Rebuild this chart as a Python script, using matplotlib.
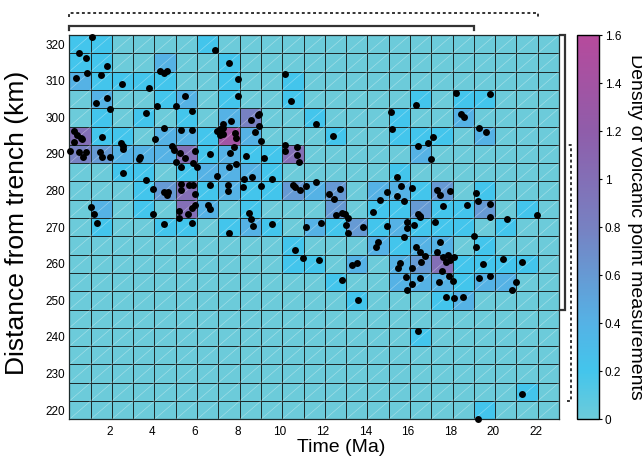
import numpy as np
import matplotlib
matplotlib.use("Agg")
import matplotlib.pyplot as plt
from matplotlib.colors import LinearSegmentedColormap
from matplotlib.collections import LineCollection
from matplotlib.transforms import blended_transform_factory

# ---------------- data ----------------
time_ma = [
    1.17, 0.56, 0.87, 1.86, 0.95, 0.41, 1.59, 6.93, 7.62, 4.36,
    4.56, 4.70, 2.59, 3.84, 8.01, 1.86, 1.34, 2.03, 4.23, 3.72,
    5.53, 5.11, 5.85, 8.01, 10.23, 10.51, 4.55, 5.35, 5.85, 7.02,
    7.16, 7.23, 7.30, 7.30, 7.16, 7.88, 7.93, 7.84, 7.31, 7.71,
    8.62, 8.98, 9.02, 9.02, 8.82, 9.09, 0.33, 0.45, 0.64, 0.68,
    0.33, 1.64, 2.53, 2.64, 2.64, 4.11, 0.15, 0.56, 0.87, 0.73,
    1.54, 1.64, 2.03, 3.42, 3.36, 4.92, 5.03, 5.11, 5.30, 5.53,
    6.00, 5.33, 5.92, 6.11, 6.71, 7.63, 8.40, 9.23, 10.25, 10.23,
    10.81, 10.81, 10.90, 11.69, 7.93, 7.62, 2.64, 3.72, 4.02, 4.55,
    4.67, 4.74, 5.35, 5.71, 5.90, 6.00, 5.33, 7.02, 6.71, 7.57,
    7.53, 8.24, 8.31, 8.70, 9.10, 9.61, 10.62, 10.70, 10.94, 11.20,
    11.68, 1.12, 1.25, 1.42, 4.02, 4.55, 5.25, 5.25, 5.69, 5.85,
    6.00, 5.85, 6.63, 6.71, 7.62, 8.52, 8.62, 8.71, 9.61, 10.70,
    11.09, 11.22, 11.91, 11.83,
    12.50, 12.31, 12.53, 12.81, 12.61, 12.91, 13.07, 13.20, 13.08, 13.20,
    13.91, 14.38, 15.00, 14.69, 15.00, 14.51, 14.59, 13.37, 13.60, 12.89,
    13.67, 15.20, 15.27, 16.37, 18.27, 19.87, 18.48, 18.66, 19.36, 19.66,
    17.20, 16.97, 16.50, 17.08, 15.51, 15.68, 15.48, 15.81, 16.19, 17.37,
    17.51, 17.98, 17.67, 18.79, 19.19, 19.28, 19.87, 19.87, 20.65, 22.08,
    16.50, 16.55, 16.59, 15.98, 16.28, 15.95, 15.81, 17.28, 17.49, 19.09,
    19.19, 16.38, 16.59, 16.80, 17.36, 17.64, 17.90, 18.17, 17.98, 17.79,
    15.63, 15.55, 16.18, 16.61, 17.59, 17.95, 18.11, 17.48, 16.57, 15.90,
    16.20, 15.98, 19.51, 20.49, 21.36, 19.36, 19.87, 21.08, 20.89, 17.79,
    18.19, 18.58, 16.49, 21.35, 19.28,
]
distance_km = [
    322.0, 317.7, 316.1, 314.1, 312.0, 310.8, 311.6, 318.4, 314.8, 312.7,
    312.0, 312.7, 309.1, 308.0, 310.6, 305.3, 304.0, 302.2, 303.0, 301.3,
    305.8, 303.2, 301.7, 305.8, 311.8, 304.5, 297.2, 296.5, 296.5, 296.3,
    296.8, 296.1, 297.2, 295.5, 295.2, 295.6, 294.3, 292.0, 298.2, 299.0,
    299.3, 300.6, 301.0, 297.7, 296.1, 293.6, 296.3, 295.2, 294.5, 294.0,
    293.3, 294.6, 292.9, 292.2, 291.4, 294.0, 290.9, 290.6, 290.5, 289.1,
    290.5, 289.1, 289.1, 289.3, 288.5, 292.2, 291.1, 287.9, 290.3, 289.0,
    290.9, 286.5, 287.5, 286.5, 289.9, 290.2, 289.5, 289.0, 292.4, 290.8,
    291.8, 289.8, 287.9, 298.2, 287.2, 286.4, 284.7, 282.8, 280.3, 279.6,
    278.9, 279.7, 281.7, 281.4, 281.4, 279.1, 280.2, 283.9, 281.5, 281.5,
    279.9, 281.1, 283.2, 283.6, 281.3, 283.1, 281.4, 281.1, 280.2, 281.3,
    282.3, 275.4, 273.6, 271.1, 273.5, 270.8, 274.5, 272.6, 273.5, 275.3,
    276.1, 271.1, 276.1, 274.9, 268.5, 274.0, 272.2, 270.4, 270.8, 263.7,
    261.6, 270.0, 271.2, 260.9,
    294.9, 279.0, 277.7, 280.3, 273.3, 274.0, 273.7, 272.4, 270.7, 268.5,
    270.0, 274.2, 279.5, 277.5, 270.3, 264.5, 266.0, 259.7, 260.3, 255.6,
    250.1, 301.5, 296.7, 303.3, 306.6, 306.3, 300.8, 300.2, 297.0, 295.9,
    294.7, 293.1, 292.2, 288.7, 283.6, 281.3, 278.5, 277.1, 280.8, 280.2,
    278.8, 280.0, 275.8, 276.0, 279.3, 277.1, 276.3, 272.7, 272.3, 273.3,
    273.6, 272.7, 273.1, 271.3, 270.5, 269.7, 267.2, 271.3, 265.9, 267.6,
    264.7, 264.5, 263.1, 262.2, 263.1, 261.9, 262.3, 261.9, 261.0, 260.6,
    260.3, 258.9, 258.9, 260.4, 258.0, 256.7, 255.3, 255.1, 256.0, 256.5,
    254.5, 252.8, 259.9, 261.3, 260.6, 256.1, 256.7, 255.1, 252.8, 251.0,
    250.6, 250.8, 241.7, 224.4, 217.5,
]

# histogram bins (1 Ma x 5 km)
time_edges = np.arange(0.1, 23.15, 1.0)
dist_edges = np.arange(217.5, 322.6, 5.0)

x_ticks = [2, 4, 6, 8, 10, 12, 14, 16, 18, 20, 22]
y_ticks = [220, 230, 240, 250, 260, 270, 280, 290, 300, 310, 320]
cbar_ticks = [0, 0.2, 0.4, 0.6, 0.8, 1.0, 1.2, 1.4, 1.6]
cbar_labels = ["0", "0.2", "0.4", "0.6", "0.8", "1", "1.2", "1.4", "1.6"]

# bracket extents (data units)
top_solid = (0.1, 19.1)
top_dotted = (0.1, 22.1)
right_solid = (247.5, 322.5)
right_dotted = (222.5, 292.5)

# ---------------- style ----------------
plt.rcParams["font.family"] = ["Liberation Sans", "DejaVu Sans"]

cmap = LinearSegmentedColormap.from_list(
    "dens",
    [(0.0, "#6ccbda"), (0.125, "#43c5ec"), (0.25, "#55b2e5"),
     (0.5, "#7781c2"), (0.75, "#8f5daa"), (1.0, "#b64a9c")])

fig = plt.figure(figsize=(6.42, 4.61), dpi=100)
ax = fig.add_axes([0.108, 0.0904, 0.7627, 0.8336])
cax = fig.add_axes([0.8988, 0.0904, 0.0345, 0.8336])

counts, _, _ = np.histogram2d(time_ma, distance_km, bins=[time_edges, dist_edges])
density = counts / (np.diff(time_edges)[0] * np.diff(dist_edges)[0])

mesh = ax.pcolormesh(time_edges, dist_edges, density.T, cmap=cmap, vmin=0, vmax=1.6,
                     edgecolors="#1d2b2c", linewidth=0.7, zorder=1)

# faint diagonal line inside each cell
segs = []
for i in range(len(time_edges) - 1):
    for j in range(len(dist_edges) - 1):
        segs.append([(time_edges[i], dist_edges[j]), (time_edges[i + 1], dist_edges[j + 1])])
ax.add_collection(LineCollection(segs, colors="white", linewidths=0.5, alpha=0.35, zorder=2))

ax.scatter(time_ma, distance_km, s=25, c="black", linewidths=0, zorder=4, clip_on=False)

ax.set_xlim(time_edges[0], time_edges[-1])
ax.set_ylim(dist_edges[0], dist_edges[-1])
ax.set_xticks(x_ticks)
ax.set_yticks(y_ticks)
ax.tick_params(axis="both", length=0, labelsize=8.5)
ax.tick_params(axis="x", pad=5)
ax.tick_params(axis="y", pad=3)
for s in ax.spines.values():
    s.set_linewidth(0.9)
    s.set_color("#1d2b2c")

ax.set_xlabel("Time (Ma)", fontsize=14)
ax.xaxis.set_label_coords(0.556, -0.05)
ax.set_ylabel("Distance from trench (km)", fontsize=19)
ax.yaxis.set_label_coords(-0.083, 0.51)

cb = fig.colorbar(mesh, cax=cax, ticks=cbar_ticks)
cb.ax.set_yticklabels(cbar_labels)
cb.ax.tick_params(labelsize=8.5, length=2.5, width=0.8, pad=1.5)
cb.outline.set_linewidth(1.0)
fig.text(627 / 642, 0.5076, "Density of volcanic point measurements", rotation=270,
         ha="left", va="center", fontsize=14)

# brackets
br_col = "#333333"
tr = blended_transform_factory(ax.transData, fig.transFigure)
ax.plot([top_solid[0], top_solid[0], top_solid[1], top_solid[1]],
        [0.935, 0.9436, 0.9436, 0.935], transform=tr, color=br_col, lw=1.6,
        clip_on=False, solid_joinstyle="miter")
ax.plot([top_dotted[0], top_dotted[0], top_dotted[1], top_dotted[1]],
        [0.963, 0.9718, 0.9718, 0.963], transform=tr, color=br_col, lw=1.4,
        dashes=(1.5, 1.4), clip_on=False)
tr2 = blended_transform_factory(fig.transFigure, ax.transData)
ax.plot([0.8723, 0.880, 0.880, 0.8723],
        [right_solid[0], right_solid[0], right_solid[1], right_solid[1]],
        transform=tr2, color=br_col, lw=1.6, clip_on=False, solid_joinstyle="miter")
ax.plot([0.883, 0.890, 0.890, 0.883],
        [right_dotted[0], right_dotted[0], right_dotted[1], right_dotted[1]],
        transform=tr2, color=br_col, lw=1.4, dashes=(1.5, 1.4), clip_on=False)

fig.savefig("out.png", dpi=100)
